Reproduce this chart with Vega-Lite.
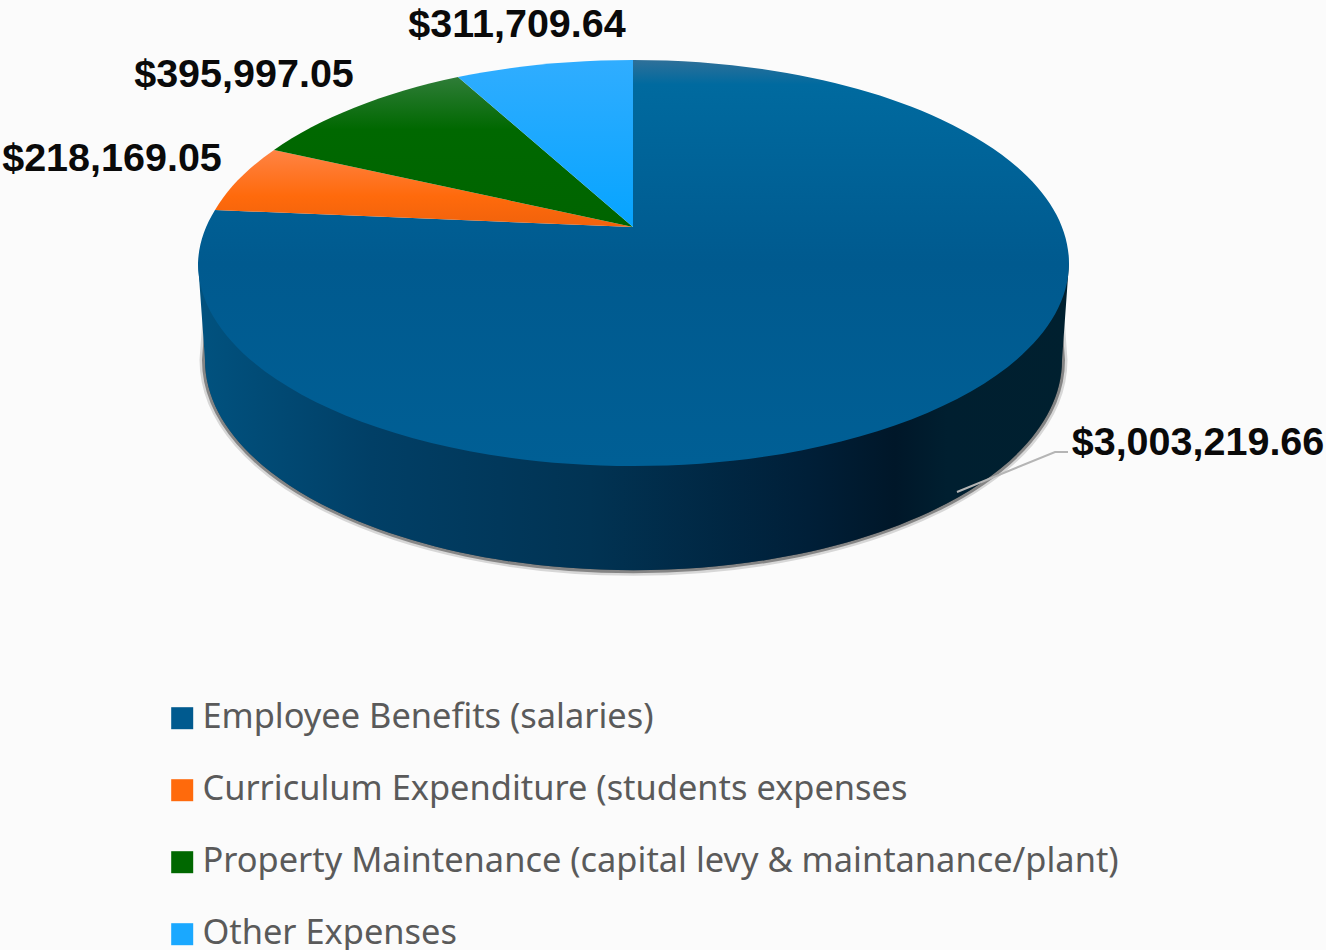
{
"$schema":"https://vega.github.io/schema/vega-lite/v6.json",
"width":1326,"height":950,"padding":0,"autosize":{"type":"none"},
"background":"#fbfbfb",
"config":{"view":{"stroke":null}},
"data":{"values":[
{"category":"Employee Benefits (salaries)","slice":"Employee","value":3003219.66},
{"category":"Curriculum Expenditure (students expenses","slice":"Curriculum","value":218169.05},
{"category":"Property Maintenance (capital levy & maintanance/plant)","slice":"Property","value":395997.05},
{"category":"Other Expenses","slice":"Other","value":311709.64}
]},
"layer":[
{"transform":[{"filter":"datum.value > 1000000"}],
 "mark":{"type":"point","filled":true,"fill":"#000000","fillOpacity":0.15,"stroke":"#000000","strokeOpacity":0.14,"strokeWidth":11,"opacity":1,"size":4,"shape":"M -454 -170 L -458 -115 A 428 210 0 0 0 399 -115 L 395 -170 Z"}},
{"transform":[{"filter":"datum.value > 1000000"}],
 "mark":{"type":"point","filled":true,"fill":"#000000","fillOpacity":0.3,"stroke":"#000000","strokeOpacity":0.38,"strokeWidth":6,"opacity":1,"size":4,"shape":"M -454 -170 L -458 -115 A 428 210 0 0 0 399 -115 L 395 -170 Z"}},
{"transform":[{"filter":"datum.value > 1000000"}],
 "mark":{"type":"point","filled":true,"opacity":1,"size":4,"strokeWidth":0,
  "shape":"M -465 -212 L -458 -115 A 428 210 0 0 0 399 -115 L 406 -212 Z",
  "fill":{"x1":0,"y1":0,"x2":1,"y2":0,"gradient":"linear","stops":[
   {"offset":0,"color":"#01527f"},{"offset":0.2,"color":"#013f66"},{"offset":0.45,"color":"#013353"},{"offset":0.7,"color":"#001f38"},{"offset":0.8,"color":"#001729"},{"offset":0.86,"color":"#001f30"},{"offset":1,"color":"#00202f"}]}}},
{"transform":[{"filter":"datum.value > 1000000"}],
 "mark":{"type":"point","filled":false,"opacity":1,"size":4,"fill":"transparent","stroke":"#b5b5b5","strokeWidth":2,"shape":"M 294 17 L 392 -23 L 405 -23"}},
{"mark":{"type":"point","filled":true,"opacity":1,"size":0,"strokeWidth":0},
  "encoding":{"color":{"field":"category","type":"nominal","title":null,
   "scale":{"domain":["Employee Benefits (salaries)","Curriculum Expenditure (students expenses","Property Maintenance (capital levy & maintanance/plant)","Other Expenses"],
    "range":["#005a8f","#ff6a0c","#006800","#1aa8ff"]},
   "legend":{"orient":"none","legendX":165,"legendY":701,"symbolType":"square","symbolSize":484,"symbolStrokeWidth":0,"labelFont":"Noto Sans","labelFontSize":34.4,"labelColor":"#5a5a5a","labelLimit":1000,"labelOffset":3,"rowPadding":37,"padding":0,"encode":{"symbols":{"update":{"shape":{"value":"square"}}}}}}}},
{"encoding":{
  "shape":{"field":"slice","type":"nominal","legend":null,
   "scale":{"domain":["Employee","Curriculum","Property","Other"],
    "range":[
     "M -30 -248 L -30 -415 A 435.5 203 0 0 1 406 -212 A 435.5 203 0 0 1 -465 -212 A 435.5 203 0 0 1 -448 -265 Z",
     "M -30 -248 L -389 -325 A 435.5 203 0 0 0 -448 -265 Z",
     "M -30 -248 L -205 -398 A 435.5 203 0 0 0 -389 -325 Z",
     "M -30 -248 L -30 -415 A 435.5 203 0 0 0 -205 -398 Z"
    ]}}},
 "layer":[
 {"transform":[{"filter":"datum.value > 3000000"}],"mark":{"type":"point","filled":true,"opacity":1,"size":4,"strokeWidth":0,"fill":{"x1":0,"y1":0,"x2":0,"y2":1,"gradient":"linear","stops":[{"offset":0,"color":"#2f7099"},{"offset":0.06,"color":"#006a9f"},{"offset":0.5,"color":"#005a8f"},{"offset":1,"color":"#005f95"}]}}},
 {"transform":[{"filter":"datum.value == 218169.05"}],"mark":{"type":"point","filled":true,"opacity":1,"size":4,"strokeWidth":0,"fill":{"x1":0,"y1":0,"x2":0,"y2":1,"gradient":"linear","stops":[{"offset":0,"color":"#ff8344"},{"offset":0.6,"color":"#ff6a0c"},{"offset":1,"color":"#f0620c"}]}}},
 {"transform":[{"filter":"datum.value == 395997.05"}],"mark":{"type":"point","filled":true,"opacity":1,"size":4,"strokeWidth":0,"fill":{"x1":0,"y1":0,"x2":0,"y2":1,"gradient":"linear","stops":[{"offset":0,"color":"#2f7d38"},{"offset":0.35,"color":"#006800"},{"offset":1,"color":"#006400"}]}}},
 {"transform":[{"filter":"datum.value == 311709.64"}],"mark":{"type":"point","filled":true,"opacity":1,"size":4,"strokeWidth":0,"fill":{"x1":0,"y1":0,"x2":0,"y2":1,"gradient":"linear","stops":[{"offset":0,"color":"#30adff"},{"offset":1,"color":"#06a4ff"}]}}}
 ]},
{"transform":[{"filter":"datum.value > 3000000"}],"mark":{"type":"text","font":"Liberation Sans","fontWeight":"bold","fontSize":39.5,"color":"#0a0a0a","align":"center","baseline":"middle","dx":535,"dy":-32},"encoding":{"text":{"field":"value","type":"quantitative","format":"$,.2f"}}},
{"transform":[{"filter":"datum.value == 218169.05"}],"mark":{"type":"text","font":"Liberation Sans","fontWeight":"bold","fontSize":39.5,"color":"#0a0a0a","align":"center","baseline":"middle","dx":-551,"dy":-316},"encoding":{"text":{"field":"value","type":"quantitative","format":"$,.2f"}}},
{"transform":[{"filter":"datum.value == 395997.05"}],"mark":{"type":"text","font":"Liberation Sans","fontWeight":"bold","fontSize":39.5,"color":"#0a0a0a","align":"center","baseline":"middle","dx":-419,"dy":-400},"encoding":{"text":{"field":"value","type":"quantitative","format":"$,.2f"}}},
{"transform":[{"filter":"datum.value == 311709.64"}],"mark":{"type":"text","font":"Liberation Sans","fontWeight":"bold","fontSize":39.5,"color":"#0a0a0a","align":"center","baseline":"middle","dx":-146,"dy":-450},"encoding":{"text":{"field":"value","type":"quantitative","format":"$,.2f"}}}
]
}
